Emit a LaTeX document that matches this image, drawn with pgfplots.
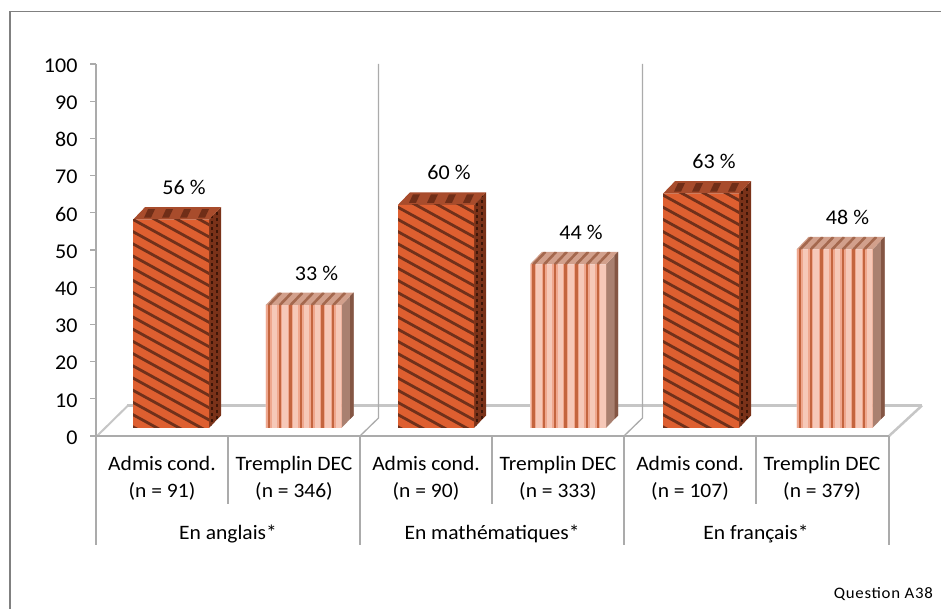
\documentclass[border=0pt]{standalone}
\usepackage{fontspec}
\setmainfont[FakeStretch=1.05]{Carlito}
\usepackage{pgfplots}
\pgfplotsset{compat=1.18}
\usepackage{pgfplotstable}
\definecolor{oran}{HTML}{DE5F30}
\definecolor{orandk}{HTML}{70301A}
\definecolor{topA}{HTML}{A84C2C}
\definecolor{topAd}{HTML}{702E18}
\definecolor{sideA}{HTML}{7A3219}
\definecolor{sideAd}{HTML}{3E1608}
\definecolor{lite}{HTML}{F6C8B8}
\definecolor{litem}{HTML}{EFA78E}
\definecolor{litedk}{HTML}{C4653F}
\definecolor{topB}{HTML}{D2A08C}
\definecolor{topBd}{HTML}{A4684E}
\definecolor{sideB}{HTML}{A98070}
\definecolor{sideBd}{HTML}{845644}
\definecolor{axgrey}{HTML}{ABABAB}
\definecolor{floorgrey}{HTML}{C6C6C6}
\definecolor{framegrey}{HTML}{808080}
\pgfplotstableread{
x v
171 56
436 60
701 63
}\tabA
\pgfplotstableread{
x v
303.5 33
568 44
834.5 48
}\tabB
% Surface texture of the 3D boxes, in picture pixels (y downwards).
% #1 left edge of front, #2 bar value
\newcommand\textureA[2]{%
  \pgfmathsetmacro\T{428-3.72*#2}%
  \begin{scope}
    \clip (#1,\T) rectangle (#1+76,428);
    \foreach \k in {-8,...,36} {
      \draw[orandk,line width=2.8pt] (#1-2,{428-2.2-12.2*\k}) -- ++(80,44);
    }
  \end{scope}
  \begin{scope}
    \clip (#1,\T) -- (#1+76,\T) -- (#1+88,\T-12.5) -- (#1+12,\T-12.5) -- cycle;
    \foreach \k in {0,...,3} {
      \fill[topAd] (#1+11+18*\k,\T-2) -- ++(7,0) -- ++(4,-8.5) -- ++(-7,0) -- cycle;
    }
  \end{scope}
  \begin{scope}
    \clip (#1+76,\T) -- (#1+88,\T-12.5) -- (#1+88,415.5) -- (#1+76,428) -- cycle;
    \pgfmathtruncatemacro\n{(428-\T)/6+2}
    \foreach \k in {0,...,\n} {
      \fill[sideAd] (#1+77.5,{428-6*\k}) rectangle ++(2.4,-3);
      \fill[sideAd] (#1+83,{428-3-6*\k}) rectangle ++(2.4,-3);
    }
  \end{scope}}
\newcommand\textureB[2]{%
  \pgfmathsetmacro\T{428-3.72*#2}%
  \begin{scope}
    \clip (#1,\T) rectangle (#1+76,428);
    \foreach \k in {0,...,7} {
      \fill[litem] (#1+0.8+10.7*\k,\T) rectangle ++(5.4,428-\T);
      \fill[litedk] (#1+2.3+10.7*\k,\T) rectangle ++(2.4,428-\T);
    }
  \end{scope}
  \begin{scope}
    \clip (#1,\T) -- (#1+76,\T) -- (#1+88,\T-12.5) -- (#1+12,\T-12.5) -- cycle;
    \foreach \k in {0,...,7} {
      \draw[topBd,line width=2.6pt] (#1+3.5+10.7*\k,\T) -- ++(12,-12.5);
    }
  \end{scope}
  \fill[sideBd] (#1+84.5,\T-9) -- (#1+88,\T-12.5) -- (#1+88,415.5) -- (#1+84.5,419) -- cycle;}
\begin{document}
\begin{tikzpicture}[x=1pt,y=1pt]
\useasboundingbox (0,0) rectangle (941,609);
\begin{scope}[yscale=-1,shift={(0,-609)}]
  % frame
  \draw[framegrey,line width=1.5pt] (10,609) -- (10,11.5) -- (941,11.5);
  % floor and back wall
  \draw[floorgrey,line width=3.5pt] (127,405.5) -- (922,405.5);
  \draw[floorgrey,line width=2pt] (97,436) -- (128,405.5);
  \draw[floorgrey,line width=2.5pt] (889,436) -- (922,405.5);
  \draw[axgrey,line width=1.3pt] (378.5,64) -- (378.5,418) -- (360,436);
  \draw[axgrey,line width=1.3pt] (642.5,64) -- (642.5,418) -- (624,436);
  % category separators
  \draw[axgrey,line width=1.5pt] (96,436) -- (96,545);
  \draw[axgrey,line width=1.5pt] (360,436) -- (360,545);
  \draw[axgrey,line width=1.5pt] (624,436) -- (624,545);
  \draw[axgrey,line width=1.5pt] (889,436) -- (889,545);
  \draw[axgrey,line width=1.5pt] (228,436) -- (228,504);
  \draw[axgrey,line width=1.5pt] (492,436) -- (492,504);
  \draw[axgrey,line width=1.5pt] (756,436) -- (756,504);
  \node[font=\fontsize{20.5}{24}\selectfont] at (228,534) {En anglais*};
  \node[font=\fontsize{20.5}{24}\selectfont] at (492,534) {En mathématiques*};
  \node[font=\fontsize{20.5}{24}\selectfont] at (756,534) {En français*};
  \node[font=\fontsize{16}{19}\selectfont\addfontfeatures{LetterSpace=4.5},anchor=east,inner sep=0pt] at (933,594) {Question A38};
\end{scope}
\begin{axis}[
  at={(96pt,545pt)},anchor=north west,
  scale only axis,width=793pt,height=372pt,
  xmin=96,xmax=889,ymin=-2.15,ymax=97.85,
  clip=false,
  axis x line=bottom,axis y line=left,
  axis line style={-,axgrey,line width=1.5pt},
  y tick style={axgrey,line width=1.3pt},
  x tick style={draw=none},
  tick align=outside,
  major tick length=6pt,
  ytick={-2.15,7.85,17.85,27.85,37.85,47.85,57.85,67.85,77.85,87.85,97.85},
  yticklabels={0,10,20,30,40,50,60,70,80,90,100},
  yticklabel style={font=\fontsize{21}{24}\selectfont,xshift=-9pt,yshift=-1.5pt},
  xtick={162,294,426,558,690,822},
  xticklabels={{Admis cond.\\(n = 91)},{Tremplin DEC\\(n = 346)},{Admis cond.\\(n = 90)},{Tremplin DEC\\(n = 333)},{Admis cond.\\(n = 107)},{Tremplin DEC\\(n = 379)}},
  xticklabel style={align=center,font=\fontsize{20.5}{26.5}\selectfont,yshift=-11pt},
  /pgf/number format/assume math mode=true,
]
% side faces
\addplot[draw=none,fill=sideA] coordinates {(209,0)(221,3.36)(221,59.36)(209,56)} -- cycle;
\addplot[draw=none,fill=sideA] coordinates {(474,0)(486,3.36)(486,63.36)(474,60)} -- cycle;
\addplot[draw=none,fill=sideA] coordinates {(739,0)(751,3.36)(751,66.36)(739,63)} -- cycle;
\addplot[draw=none,fill=sideB] coordinates {(341.5,0)(353.5,3.36)(353.5,36.36)(341.5,33)} -- cycle;
\addplot[draw=none,fill=sideB] coordinates {(606,0)(618,3.36)(618,47.36)(606,44)} -- cycle;
\addplot[draw=none,fill=sideB] coordinates {(872.5,0)(884.5,3.36)(884.5,51.36)(872.5,48)} -- cycle;
% top faces
\addplot[draw=none,fill=topA] coordinates {(133,56)(209,56)(221,59.36)(145,59.36)} -- cycle;
\addplot[draw=none,fill=topA] coordinates {(398,60)(474,60)(486,63.36)(410,63.36)} -- cycle;
\addplot[draw=none,fill=topA] coordinates {(663,63)(739,63)(751,66.36)(675,66.36)} -- cycle;
\addplot[draw=none,fill=topB] coordinates {(265.5,33)(341.5,33)(353.5,36.36)(277.5,36.36)} -- cycle;
\addplot[draw=none,fill=topB] coordinates {(530,44)(606,44)(618,47.36)(542,47.36)} -- cycle;
\addplot[draw=none,fill=topB] coordinates {(796.5,48)(872.5,48)(884.5,51.36)(808.5,51.36)} -- cycle;
% front faces
\addplot[ybar,bar width=76pt,bar shift=0pt,draw=none,fill=oran,
  nodes near coords={\pgfmathprintnumber{\pgfplotspointmeta} \%},
  every node near coord/.append style={anchor=center,xshift=13pt,yshift=32pt,font=\fontsize{21}{24}\selectfont,text=black}]
  table[x=x,y=v] {\tabA};
\addplot[ybar,bar width=76pt,bar shift=0pt,draw=none,fill=lite,
  nodes near coords={\pgfmathprintnumber{\pgfplotspointmeta} \%},
  every node near coord/.append style={anchor=center,xshift=13pt,yshift=32pt,font=\fontsize{21}{24}\selectfont,text=black}]
  table[x=x,y=v] {\tabB};
\end{axis}
\begin{scope}[yscale=-1,shift={(0,-609)}]
  \textureA{133}{56}\textureA{398}{60}\textureA{663}{63}
  \textureB{265.5}{33}\textureB{530}{44}\textureB{796.5}{48}
\end{scope}
\end{tikzpicture}
\end{document}
